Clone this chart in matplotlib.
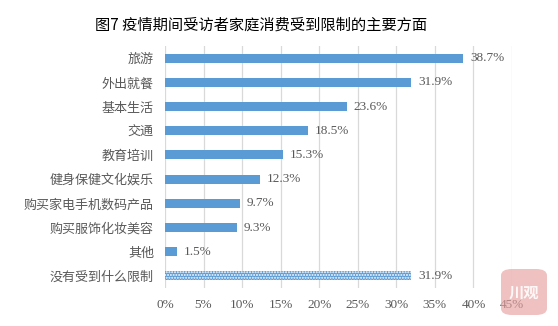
import matplotlib.pyplot as plt
from matplotlib.patches import FancyBboxPatch

plt.rcParams['font.family'] = ['Noto Sans CJK SC', 'DejaVu Sans']
plt.rcParams['hatch.linewidth'] = 1.0

categories = ['旅游', '外出就餐', '基本生活', '交通', '教育培训', '健身保健文化娱乐',
              '购买家电手机数码产品', '购买服饰化妆美容', '其他', '没有受到什么限制']
values = [38.7, 31.9, 23.6, 18.5, 15.3, 12.3, 9.7, 9.3, 1.5, 31.9]
xticks = [0, 5, 10, 15, 20, 25, 30, 35, 40, 45]

blue = '#5B9BD5'
grey = '#595959'
serif = ['Liberation Serif', 'DejaVu Serif']

fig = plt.figure(figsize=(5.58, 3.26), dpi=100)
ax = fig.add_axes([165 / 558, 1 - 288 / 326, 347 / 558, 242 / 326])

ypos = list(range(len(categories)))
bars = ax.barh(ypos[:-1], values[:-1], height=0.37, color=blue, zorder=2)
# 最后一项用点状填充
last = ax.barh(ypos[-1], values[-1], height=0.37, color=blue, edgecolor='white',
               hatch='......', linewidth=0, zorder=2)

for y, v in zip(ypos, values):
    ax.text(v + 0.9, y, f'{v:.1f}%', va='center', ha='left', fontsize=9.5,
            color=grey, family=serif)

ax.set_xlim(0, 45)
ax.set_ylim(9.5, -0.5)
ax.set_xticks(xticks)
ax.set_xticklabels([f'{t}%' for t in xticks], family=serif, fontsize=9.5, color=grey)
ax.set_yticks(ypos)
ax.set_yticklabels(categories, fontsize=9.4, color=grey)
ax.tick_params(length=0)
ax.tick_params(axis='y', pad=8)
ax.tick_params(axis='x', pad=8)
ax.grid(axis='x', color='#D9D9D9', linewidth=0.9, zorder=0)
for s in ax.spines.values():
    s.set_visible(False)

fig.text(261 / 558, 1 - 25 / 326, '图7 疫情期间受访者家庭消费受到限制的主要方面',
         ha='center', va='center', fontsize=11, color='black')

# 右下角水印
logo = FancyBboxPatch((501 / 558, 1 - 315 / 326), 46 / 558, 46 / 326,
                      boxstyle='round,pad=0,rounding_size=0.02',
                      transform=fig.transFigure, facecolor='#E8A0A0', alpha=0.65,
                      edgecolor='none', zorder=5)
fig.patches.append(logo)
fig.text(524 / 558, 1 - 293 / 326, '川观', ha='center', va='center', fontsize=11,
         color='white', alpha=0.9, zorder=6, fontweight='bold')

fig.savefig('out.png', dpi=100, facecolor='white')
